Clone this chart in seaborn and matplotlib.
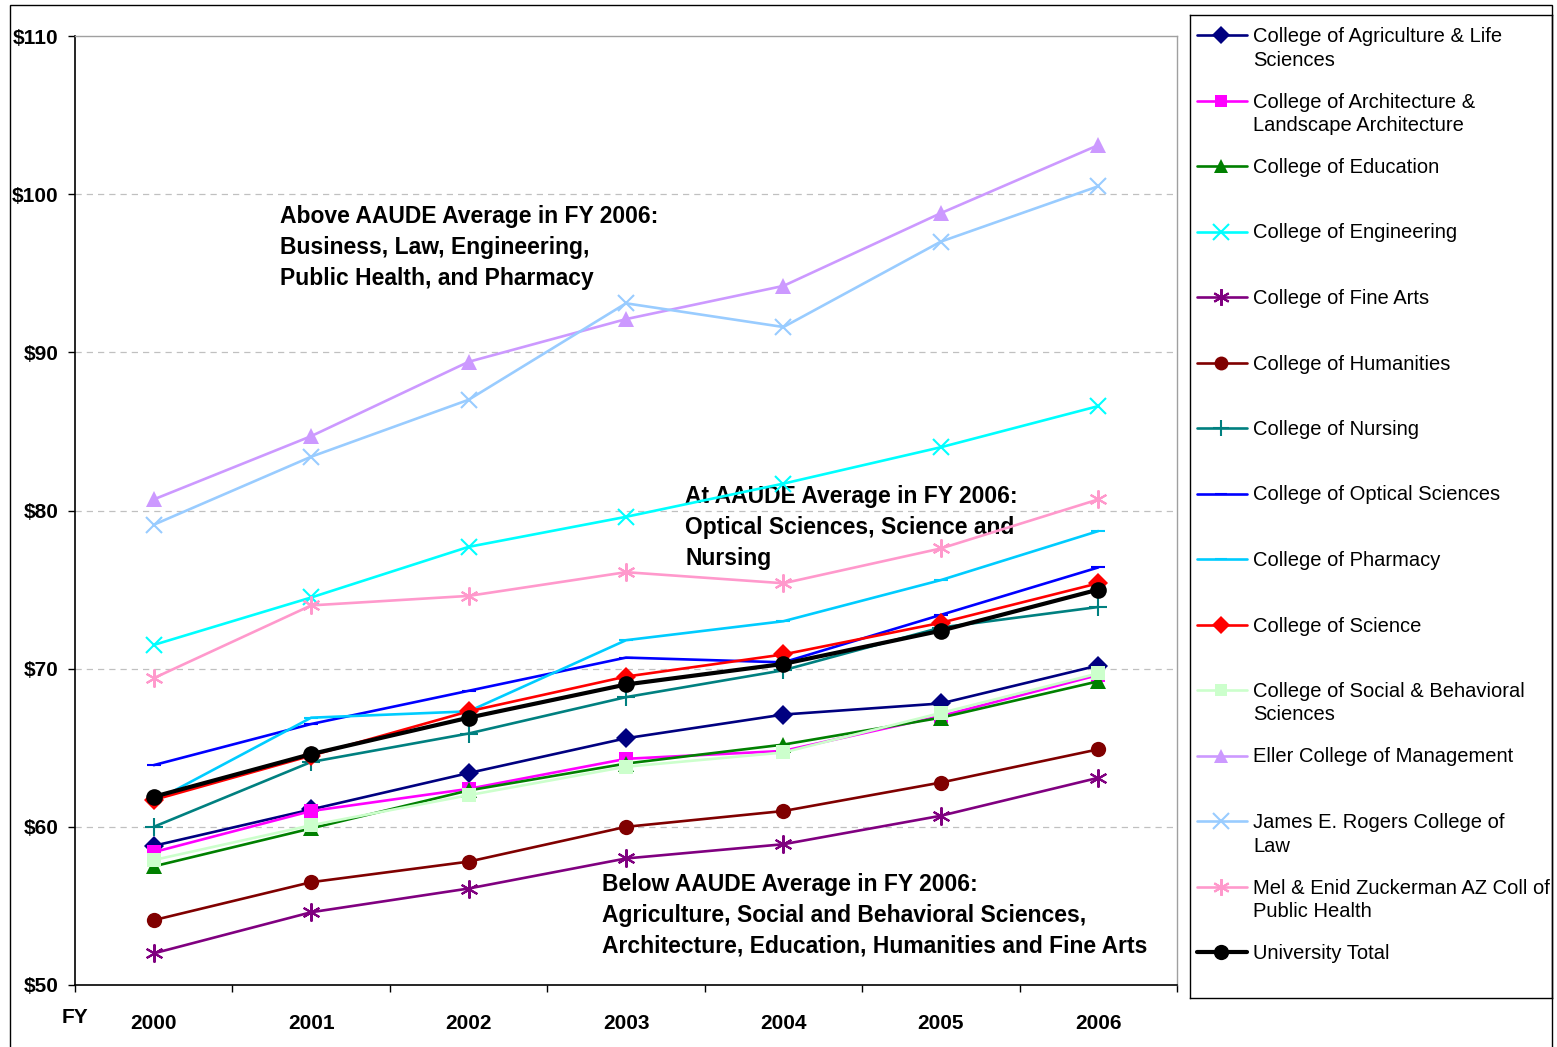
import numpy as np
import pandas as pd
import matplotlib
matplotlib.use("Agg")
from matplotlib import pyplot as plt
from matplotlib.patches import Rectangle
from matplotlib.transforms import blended_transform_factory
import seaborn as sns

years = ["2000", "2001", "2002", "2003", "2004", "2005", "2006"]

colleges = [
    "College of Agriculture & Life\nSciences",
    "College of Architecture &\nLandscape Architecture",
    "College of Education",
    "College of Engineering",
    "College of Fine Arts",
    "College of Humanities",
    "College of Nursing",
    "College of Optical Sciences",
    "College of Pharmacy",
    "College of Science",
    "College of Social & Behavioral\nSciences",
    "Eller College of Management",
    "James E. Rogers College of\nLaw",
    "Mel & Enid Zuckerman AZ Coll of\nPublic Health",
    "University Total",
]

agriculture = [58.8, 61.1, 63.4, 65.6, 67.1, 67.8, 70.2]
architecture = [58.4, 61.0, 62.4, 64.3, 64.8, 67.0, 69.6]
education = [57.5, 59.9, 62.3, 64.0, 65.2, 66.9, 69.2]
engineering = [71.5, 74.5, 77.7, 79.6, 81.7, 84.0, 86.6]
fine_arts = [52.0, 54.6, 56.1, 58.0, 58.9, 60.7, 63.1]
humanities = [54.1, 56.5, 57.8, 60.0, 61.0, 62.8, 64.9]
nursing = [60.0, 64.1, 65.9, 68.2, 69.9, 72.6, 73.9]
optical = [63.9, 66.5, 68.6, 70.7, 70.4, 73.4, 76.4]
pharmacy = [61.6, 66.9, 67.3, 71.8, 73.0, 75.6, 78.7]
science = [61.7, 64.5, 67.3, 69.5, 70.9, 72.9, 75.4]
social = [57.9, 60.1, 62.0, 63.8, 64.7, 67.2, 69.7]
eller = [80.7, 84.7, 89.4, 92.1, 94.2, 98.8, 103.1]
law = [79.1, 83.4, 87.0, 93.1, 91.6, 97.0, 100.5]
public_health = [69.4, 74.0, 74.6, 76.1, 75.4, 77.6, 80.7]
total = [61.9, 64.6, 66.9, 69.0, 70.3, 72.4, 75.0]

series = [agriculture, architecture, education, engineering, fine_arts,
          humanities, nursing, optical, pharmacy, science, social, eller,
          law, public_health, total]

colors = ["#000080", "#FF00FF", "#008000", "#00FFFF", "#800080", "#800000",
          "#008080", "#0000FF", "#00CCFF", "#FF0000", "#CCFFCC", "#CC99FF",
          "#99CCFF", "#FF99CC", "#000000"]

asterisk = (6, 2, 0)
markers = ["D", "s", "^", "x", asterisk, "o", "+", "_", "_", "D", "s", "^",
           "x", asterisk, "o"]
msizes = [10, 10, 11, 12, 13, 11, 13, 10, 10, 10, 10, 11, 12, 13, 12]
lwidths = [1.9] * 14 + [3.0]

df = pd.DataFrame({
    "college": np.repeat(colleges, len(years)),
    "year": np.tile(np.arange(len(years)), len(colleges)),
    "value": np.concatenate(series),
})

sns.set_style("white")
plt.rcParams["font.family"] = ["Liberation Sans", "DejaVu Sans"]
plt.rcParams["text.color"] = "black"
plt.rcParams["xtick.color"] = "black"
plt.rcParams["ytick.color"] = "black"

W, H = 1557, 1047
fig = plt.figure(figsize=(W / 100, H / 100), dpi=100)
fig.patches.append(Rectangle((10 / W, -0.01), (1552 - 10) / W, 1.01 - 5 / H,
                             transform=fig.transFigure, fill=False,
                             edgecolor="black", linewidth=1))

ax = fig.add_axes([75 / W, (H - 985) / H, (1177 - 75) / W, (985 - 36) / H])

for i, name in enumerate(colleges):
    sub = df[df["college"] == name]
    mk = markers[i]
    sns.lineplot(data=sub, x="year", y="value", ax=ax, color=colors[i],
                 linewidth=lwidths[i], marker=mk, markersize=msizes[i],
                 markeredgecolor=colors[i],
                 markeredgewidth=1.5 if mk in ("x", "+", "_", asterisk) else 0,
                 legend=False, zorder=2 + i)

ax.set_xlim(-0.5, len(years) - 0.5)
ax.set_ylim(50, 110)
ax.set_xlabel("")
ax.set_ylabel("")

ax.set_yticks(np.arange(50, 111, 10))
ax.set_yticklabels(["$" + str(v) for v in range(50, 111, 10)],
                   fontsize=15, fontweight="bold")
ax.tick_params(axis="y", direction="out", length=5, width=1, left=True, pad=7)

ax.set_xticks(np.arange(-0.5, len(years)), labels=[""] * (len(years) + 1))
ax.set_xticks(np.arange(len(years)), labels=years, minor=True)
ax.tick_params(axis="x", which="major", direction="out", length=5, width=1,
               bottom=True)
ax.tick_params(axis="x", which="minor", length=0, pad=21, labelsize=15)
for t in ax.get_xticklabels(minor=True):
    t.set_fontweight("bold")

for y in range(60, 110, 10):
    ax.axhline(y, color="#c0c0c0", linestyle=(0, (5, 4)), linewidth=0.9,
               zorder=1)

for side in ["top", "right"]:
    ax.spines[side].set_color("#a0a0a0")
    ax.spines[side].set_linewidth(1)
for side in ["left", "bottom"]:
    ax.spines[side].set_color("black")
    ax.spines[side].set_linewidth(1.2)

trans = blended_transform_factory(ax.transData, ax.transAxes)
ax.text(-0.5, -0.034, "FY", transform=trans, ha="center", va="center",
        fontsize=15, fontweight="bold")

note_kw = dict(fontsize=16.5, fontweight="bold", va="top", ha="left",
               linespacing=1.45)
ax.text(0.8, 99.3,
        "Above AAUDE Average in FY 2006:\nBusiness, Law, Engineering,\n"
        "Public Health, and Pharmacy", **note_kw)
ax.text(3.375, 81.6,
        "At AAUDE Average in FY 2006:\nOptical Sciences, Science and\nNursing",
        **note_kw)
ax.text(2.85, 57.1,
        "Below AAUDE Average in FY 2006:\nAgriculture, Social and Behavioral "
        "Sciences,\nArchitecture, Education, Humanities and Fine Arts",
        **note_kw)

# legend box drawn as its own axes so every row keeps the Excel spacing
lx0, lx1, ly0, ly1 = 1190, 1552, 15, 998
lax = fig.add_axes([lx0 / W, (H - ly1) / H, (lx1 - lx0) / W, (ly1 - ly0) / H])
lax.set_xlim(0, lx1 - lx0)
lax.set_ylim(ly1 - ly0, 0)
lax.set_xticks([])
lax.set_yticks([])
for s in lax.spines.values():
    s.set_color("black")
    s.set_linewidth(1)
for i, name in enumerate(colleges):
    yy = 20 + i * 65.5
    mk = markers[i]
    lax.plot([7, 57], [yy, yy], color=colors[i], linewidth=lwidths[i])
    lax.plot([31], [yy], color=colors[i], marker=mk, markersize=msizes[i] - 1,
             markeredgecolor=colors[i],
             markeredgewidth=1.5 if mk in ("x", "+", "_", asterisk) else 0)
    lax.text(63, yy - 8, name, fontsize=14.5, va="top", ha="left",
             linespacing=1.3, clip_on=True)

fig.savefig("out.png", dpi=100)
